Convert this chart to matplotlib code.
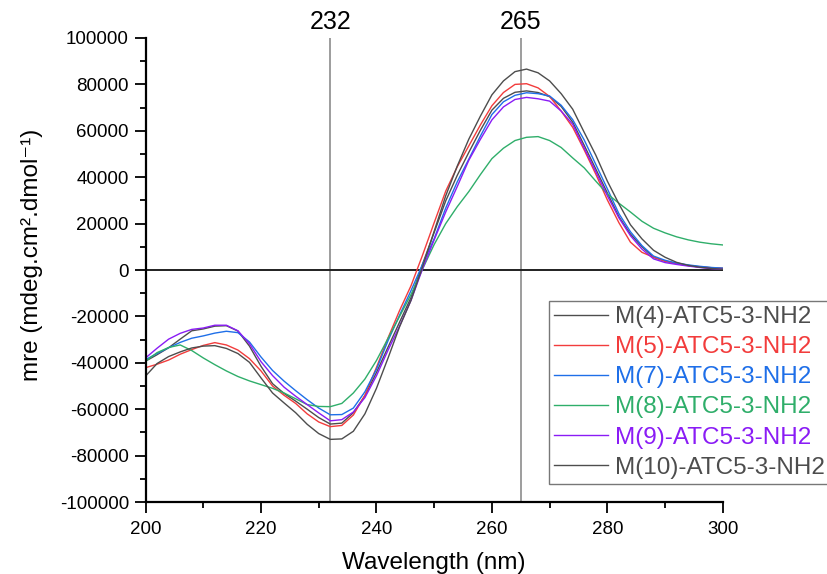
import matplotlib
matplotlib.use("Agg")
import matplotlib.pyplot as plt
import numpy as np

plt.rcParams['font.family'] = ['Liberation Sans', 'DejaVu Sans']
plt.rcParams['axes.unicode_minus'] = False

wavelength = [200, 202, 204, 206, 208, 210, 212, 214, 216, 218, 220, 222, 224, 226, 228,
              230, 232, 234, 236, 238, 240, 242, 244, 246, 248, 250, 252, 254, 256, 258,
              260, 262, 264, 266, 268, 270, 272, 274, 276, 278, 280, 282, 284, 286, 288,
              290, 292, 294, 296, 298, 300]

m4 = [-39300, -36500, -33500, -29800, -26200, -25400, -24200, -24000, -26300, -32800,
      -41500, -49000, -53200, -56500, -60000, -63600, -66400, -66000, -61500, -54200,
      -44200, -33300, -22500, -11800, 2700, 16200, 29800, 40800, 50700, 60200,
      68900, 74000, 76600, 77200, 76500, 74700, 70500, 63700, 53700, 43500,
      33200, 23000, 15500, 10000, 5500, 3800, 2800, 2000, 1400, 1000, 700]

m5 = [-42100, -40600, -38800, -36300, -34300, -32500, -31300, -32300, -34500, -38200,
      -43500, -50000, -54000, -57500, -62000, -65500, -67500, -67000, -62500, -54000,
      -42000, -29300, -17500, -6700, 6500, 20400, 34000, 44500, 53500, 62500,
      70800, 76500, 80000, 80300, 78500, 74800, 68500, 61500, 51700, 41300,
      30200, 20400, 12000, 7600, 5500, 3800, 2700, 1900, 1300, 900, 700]

m7 = [-38600, -36000, -33500, -31200, -29400, -28400, -27200, -26400, -27000, -31000,
      -37500, -43300, -47900, -52000, -55900, -59500, -62400, -62300, -59500, -52500,
      -42800, -30500, -19500, -8800, 2500, 13500, 26700, 38000, 47800, 57700,
      67000, 72500, 75300, 76400, 76000, 75000, 71000, 64800, 56000, 45500,
      35000, 24300, 16500, 10500, 6000, 4200, 3000, 2200, 1600, 1100, 800]

m8 = [-39300, -35600, -33400, -32300, -34700, -37900, -40800, -43500, -45900, -47800,
      -49400, -51000, -53000, -55500, -58000, -58800, -58900, -57500, -53000, -47000,
      -39000, -29500, -20000, -10500, 500, 11000, 20000, 27300, 33800, 41100,
      48000, 52500, 55800, 57200, 57500, 55800, 52800, 48300, 44000, 38300,
      32800, 28800, 25000, 21000, 18000, 16000, 14300, 13000, 12000, 11300, 10800]

m9 = [-37900, -33700, -29800, -27300, -25600, -25000, -23800, -23800, -26200, -31800,
      -39500, -45500, -50500, -54400, -58000, -61600, -65000, -64500, -61200, -55000,
      -45600, -34600, -24200, -13000, 600, 13000, 25000, 36000, 47300, 56300,
      64700, 70300, 73500, 74400, 73800, 72800, 68500, 62800, 52500, 42400,
      32000, 22500, 14800, 9000, 4800, 3200, 2400, 1700, 1100, 600, 300]

m10 = [-45700, -40300, -37300, -35300, -33600, -32800, -32600, -33800, -36000, -39800,
       -46500, -53000, -57300, -61500, -66500, -70500, -73000, -72800, -69500, -62000,
       -51000, -38000, -24500, -13000, 1500, 16700, 32000, 44800, 56400, 66300,
       75500, 81500, 85500, 86600, 85000, 81500, 76000, 69300, 59300, 49500,
       38300, 28500, 19500, 13400, 8500, 5500, 3300, 2000, 1200, 700, 300]

labels = ["M(4)-ATC5-3-NH2", "M(5)-ATC5-3-NH2", "M(7)-ATC5-3-NH2",
          "M(8)-ATC5-3-NH2", "M(9)-ATC5-3-NH2", "M(10)-ATC5-3-NH2"]
series = [m4, m5, m7, m8, m9, m10]
colors = ["#4d4d4d", "#f23c3c", "#1f6fe8", "#2fae6a", "#8a1cf5", "#4d4d4d"]
marker_lines = [232, 265]

fig = plt.figure(figsize=(8.27, 5.74), dpi=100)
ax = fig.add_axes([0.176, 0.1254, 0.698, 0.8084])

for vx in marker_lines:
    ax.axvline(vx, color="#8c8c8c", lw=1.2, zorder=1)
    ax.text(vx, 1.008, str(vx), transform=ax.get_xaxis_transform(),
            ha="center", va="bottom", fontsize=18)
ax.axhline(0, color="#202020", lw=1.4, zorder=1)

for y, c, lab in zip(series, colors, labels):
    ax.plot(wavelength, y, color=c, lw=1.0, label=lab, zorder=2)

ax.set_xlim(200, 300)
ax.set_ylim(-100000, 100000)
ax.set_xticks([200, 220, 240, 260, 280, 300])
ax.set_xticks(np.arange(210, 300, 20), minor=True)
ax.set_yticks(np.arange(-100000, 100001, 20000))
ax.set_yticks(np.arange(-90000, 100000, 20000), minor=True)
ax.tick_params(axis='both', which='major', direction='out', length=8, width=1.3,
               labelsize=13.5, pad=4)
ax.tick_params(axis='x', which='major', pad=6)
ax.tick_params(axis='both', which='minor', direction='out', length=4.5, width=1.3)
for s in ['top', 'right']:
    ax.spines[s].set_visible(False)
for s in ['left', 'bottom']:
    ax.spines[s].set_linewidth(1.6)

ax.set_xlabel("Wavelength (nm)", fontsize=17.5, labelpad=9.5)
ax.set_ylabel("mre (mdeg.cm².dmol⁻¹)", fontsize=17.5)
ax.yaxis.set_label_coords(-0.178, 0.532)

leg = ax.legend(loc="upper left", bbox_to_anchor=(0.664, 0.4756),
                bbox_transform=fig.transFigure, fontsize=17.5, frameon=True,
                fancybox=False, edgecolor="#555555", handlelength=2.2,
                handletextpad=0.28, borderpad=0.22, labelspacing=0.33,
                borderaxespad=0)
leg.get_frame().set_linewidth(1.0)
for t, c in zip(leg.get_texts(), colors):
    t.set_color(c)

fig.savefig("out.png", dpi=100)
